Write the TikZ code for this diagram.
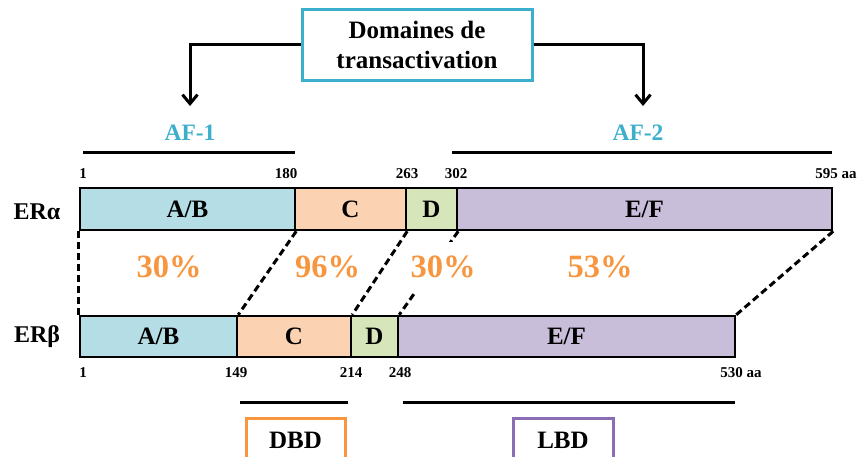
\documentclass[tikz,border=0pt]{standalone}
\usepackage{fontspec}
\setmainfont{Liberation Serif}
\usetikzlibrary{arrows.meta}
\definecolor{cab}{HTML}{B5DDE6}
\definecolor{cc}{HTML}{FBD3B3}
\definecolor{cd}{HTML}{D6E6BA}
\definecolor{cef}{HTML}{C9BEDA}
\definecolor{ccyan}{HTML}{3BAFCC}
\definecolor{corange}{HTML}{F7963F}
\definecolor{cpurple}{HTML}{8A6DB5}
\begin{document}
\begin{tikzpicture}[x=1pt,y=-1pt,
  seg/.style={draw, line width=2.5pt, inner sep=0pt, font=\fontsize{25}{28}\selectfont\bfseries},
  segA/.style={seg, minimum height=42pt},
  segB/.style={seg, minimum height=41pt},
  num/.style={inner sep=0pt, font=\fontsize{15}{17}\selectfont\bfseries},
  pct/.style={fill=white, inner sep=2pt, minimum height=50pt, text=corange, font=\fontsize{32.5}{35}\selectfont\bfseries},
  afl/.style={text=ccyan, inner sep=0pt, font=\fontsize{23.5}{26}\selectfont\bfseries},
  bar/.style={line width=3pt},
  dsh/.style={line width=3pt, dash pattern=on 7pt off 4pt},
  arr/.style={line width=3pt, -{Straight Barb[length=9pt,width=15pt,line width=3pt]}},
  lbl/.style={inner sep=0pt, font=\fontsize{24}{26}\selectfont\bfseries},
  dombox/.style={draw, line width=3pt, inner sep=0pt, minimum height=44pt, font=\fontsize{25}{28}\selectfont\bfseries}
]
\useasboundingbox (0,0) rectangle (859,456);
\clip (0,0) rectangle (859,456);

% top box
\node[draw=ccyan, line width=3pt, minimum width=230pt, minimum height=71pt, inner sep=0pt,
  align=center, font=\fontsize{25}{30}\selectfont\bfseries] (top) at (417,44.5) {Domaines de\\transactivation};
\coordinate (af1tip) at (190,106);
\coordinate (af2tip) at (643,106);
\draw[arr] (top.west) -| (af1tip);
\draw[arr] (top.east) -| (af2tip);

% AF labels and lines
\node[afl] (af1) at (190,133) {AF-1};
\node[afl] (af2) at (638,133) {AF-2};
\coordinate (af1l) at (83,152); \coordinate (af1r) at (295,152);
\coordinate (af2l) at (452,152); \coordinate (af2r) at (832,152);
\draw[bar] (af1l) -- (af1r);
\draw[bar] (af2l) -- (af2r);

% ER alpha
\node[lbl] (era) at (37,212) {ERα};
\node[segA, fill=cab, minimum width=215pt] (a1) at (187.5,209) {A/B};
\node[segA, fill=cc, minimum width=111pt] (a2) at (350.5,209) {C};
\node[segA, fill=cd, minimum width=51pt] (a3) at (431.5,209) {D};
\node[segA, fill=cef, minimum width=375pt] (a4) at (644.5,209) {E/F};
\node[num] (na1) at (83,174) {1};
\node[num] (na2) at (286,174) {180};
\node[num] (na3) at (407,174) {263};
\node[num] (na4) at (456,174) {302};
\node[num] (na5) at (836,174) {595 aa};

% ER beta
\node[lbl] (erb) at (37,337) {ERβ};
\node[segB, fill=cab, minimum width=157pt] (b1) at (158.5,336.5) {A/B};
\node[segB, fill=cc, minimum width=114pt] (b2) at (294,336.5) {C};
\node[segB, fill=cd, minimum width=47pt] (b3) at (374.5,336.5) {D};
\node[segB, fill=cef, minimum width=337pt] (b4) at (566.5,336.5) {E/F};
\node[num] (nb1) at (83,373) {1};
\node[num] (nb2) at (236,373) {149};
\node[num] (nb3) at (351,373) {214};
\node[num] (nb4) at (400,373) {248};
\node[num] (nb5) at (741,373) {530 aa};

% dashed homology lines
\draw[dsh] (a1.south west) -- (b1.north west);
\draw[dsh] (a1.south east) -- (b1.north east);
\draw[dsh] (a2.south east) -- (b2.north east);
\draw[dsh] (a3.south east) -- (b3.north east);
\draw[dsh] (a4.south east) -- (b4.north east);

% percentages
\node[pct] (p1) at (169,267) {30\%};
\node[pct] (p2) at (327.5,267) {96\%};
\node[pct] (p3) at (443,267) {30\%};
\node[pct] (p4) at (600,267) {53\%};

% DBD / LBD
\coordinate (dbl) at (240,402); \coordinate (dbr) at (348,402);
\coordinate (lbl) at (403,402); \coordinate (lbr) at (735,402);
\draw[bar] (dbl) -- (dbr);
\draw[bar] (lbl) -- (lbr);
\node[dombox, draw=corange, minimum width=99pt] (dbd) at (295.5,440) {DBD};
\node[dombox, draw=cpurple, minimum width=100pt] (lbd) at (563,440) {LBD};
\end{tikzpicture}
\end{document}
